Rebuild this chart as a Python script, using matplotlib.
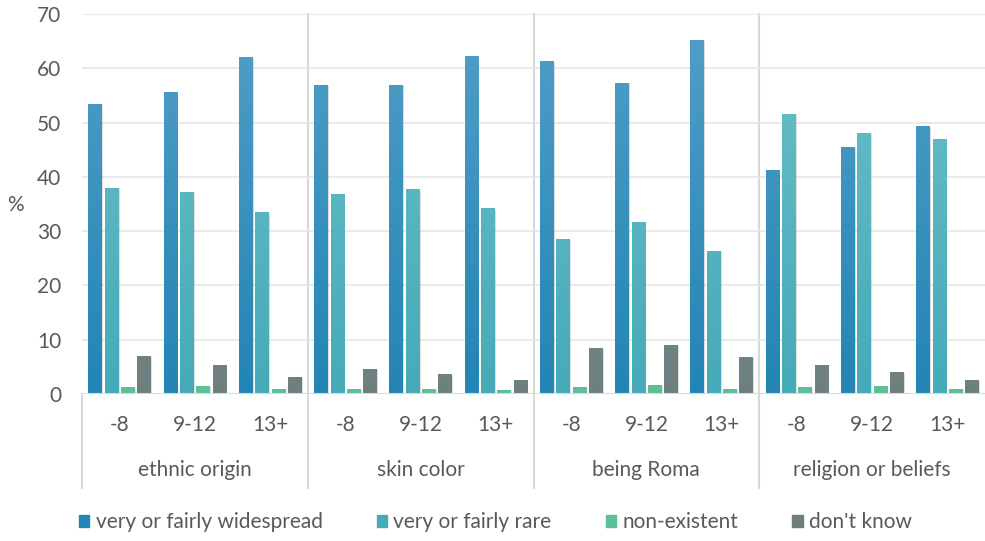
import matplotlib.pyplot as plt
import matplotlib.patheffects as pe
import numpy as np
from matplotlib.colors import LinearSegmentedColormap

plt.rcParams['font.family'] = ['Lato', 'DejaVu Sans']

groups = ["ethnic origin", "skin color", "being Roma", "religion or beliefs"]
ages = ["-8", "9-12", "13+"]
series = ["very or fairly widespread", "very or fairly rare", "non-existent", "don't know"]

widespread = [53.5, 55.7, 62.0, 57.0, 57.0, 62.3, 61.3, 57.3, 65.3, 41.3, 45.5, 49.3]
rare = [38.0, 37.3, 33.5, 36.8, 37.7, 34.2, 28.5, 31.6, 26.4, 51.6, 48.1, 46.9]
nonexistent = [1.2, 1.5, 0.9, 1.0, 1.0, 0.8, 1.3, 1.7, 1.0, 1.2, 1.5, 1.0]
dont_know = [7.0, 5.3, 3.2, 4.6, 3.6, 2.5, 8.4, 9.1, 6.8, 5.3, 4.1, 2.5]

values = [widespread, rare, nonexistent, dont_know]
# (top colour, bottom colour) of each gradient
grads = [("#529fc8", "#2285b4"), ("#6cbfc9", "#45abb8"),
         ("#86cfb0", "#5cbf98"), ("#8a9a9a", "#6d7f7f")]
text_col = "#595959"
line_col = "#d9d9d9"
fs = 15

fig = plt.figure(figsize=(9.85, 5.41), dpi=100)
ax = fig.add_axes([82 / 985, 1 - 394 / 541, 903 / 985, 380 / 541])

n = len(widespread)
x = np.arange(n)
step = 0.217
width = 0.177
for i, vals in enumerate(values):
    cmap = LinearSegmentedColormap.from_list("g%d" % i, [grads[i][1], grads[i][0]])
    bars = ax.bar(x + (i - 1.5) * step, vals, width, color=grads[i][1], zorder=3,
                  linewidth=0, label=series[i])
    for b in bars:
        b.set_path_effects([pe.SimplePatchShadow(offset=(1, -1), alpha=0.15), pe.Normal()])
        bx = b.get_x()
        grad = np.linspace(0, 1, 100).reshape(-1, 1)
        im = ax.imshow(grad, cmap=cmap, origin="lower", aspect="auto",
                       extent=(bx, bx + b.get_width(), 0, 70), zorder=4)
        im.set_clip_path(b)

ax.set_xlim(-0.5, n - 0.5)
ax.set_ylim(0, 70)
ax.set_yticks(np.arange(0, 71, 10))
ax.yaxis.grid(True, color="#e6e6e6", linewidth=1.2, zorder=0)
ax.tick_params(axis="y", length=0, pad=15, labelsize=fs, labelcolor=text_col)
ax.set_xticks([])
for s in ax.spines.values():
    s.set_visible(False)
ax.axhline(0, color=line_col, linewidth=1.5, zorder=5)

# vertical group dividers
for k in range(1, len(groups)):
    ax.plot([3 * k - 0.5] * 2, [70, -17.3], color=line_col, linewidth=1.5,
            clip_on=False, zorder=1)
ax.plot([-0.5, -0.5], [0, -17.3], color=line_col, linewidth=1.5, clip_on=False)

for j in range(n):
    ax.text(x[j], -5.8, ages[j % 3], ha="center", va="center", fontsize=fs, color=text_col)
for k, g in enumerate(groups):
    ax.text(3 * k + 1, -14.0, g, ha="center", va="center", fontsize=fs, color=text_col)

fig.text(15 / 985, 1 - 205 / 541, "%", ha="center", va="center", fontsize=fs, color=text_col)

handles = [plt.Rectangle((0, 0), 1, 1, color=grads[i][1]) for i in range(4)]
fig.legend(handles, series, loc="center", bbox_to_anchor=(0.503, 1 - 522 / 541), ncol=4,
           frameon=False, fontsize=fs, handlelength=0.5, handleheight=0.5,
           handletextpad=0.3, columnspacing=2.6, labelcolor=text_col)

fig.savefig("out.png", dpi=100)
